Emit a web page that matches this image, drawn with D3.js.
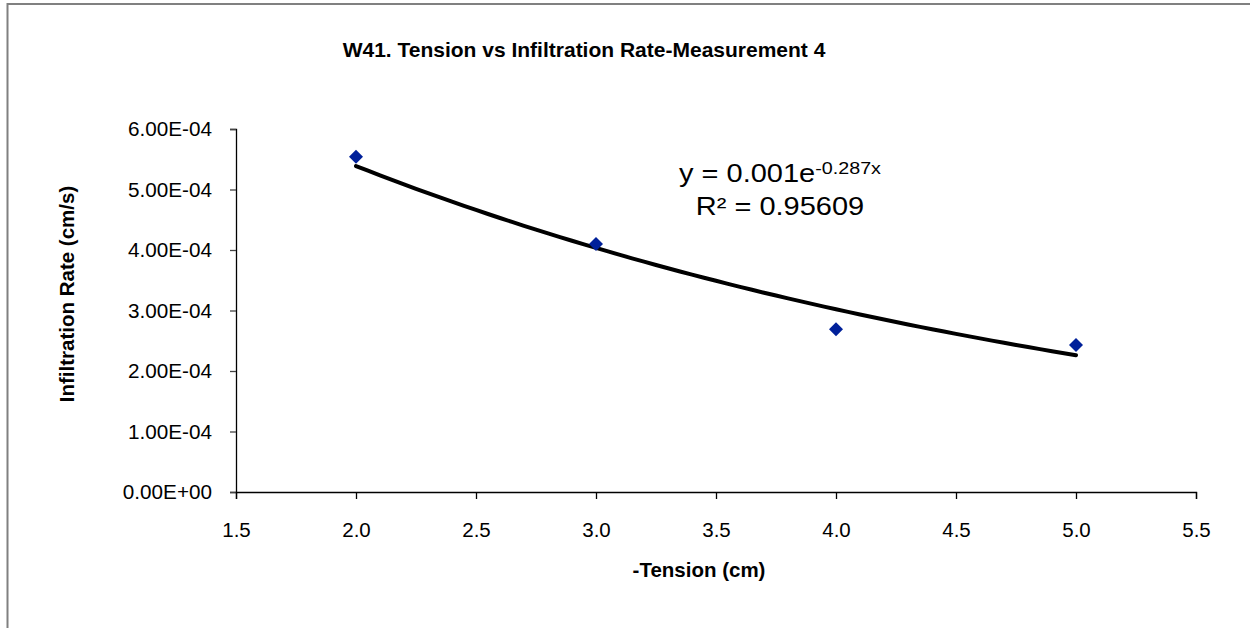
<!DOCTYPE html>
<html><head><meta charset="utf-8">
<script src="https://cdn.jsdelivr.net/npm/d3@7"></script>
<style>body{margin:0;background:#fff}svg{display:block;font-family:Arial,"Liberation Sans",sans-serif}</style>
</head><body><svg id="c" width="1250" height="628"></svg>
<script>
const tension = [2, 3, 4, 5];
const rate = [5.54e-4, 4.10e-4, 2.69e-4, 2.43e-4];
const xTicks = [1.5, 2.0, 2.5, 3.0, 3.5, 4.0, 4.5, 5.0, 5.5];
const yTicks = [0, 1e-4, 2e-4, 3e-4, 4e-4, 5e-4, 6e-4];
const titleText = "W41. Tension vs Infiltration Rate-Measurement 4";
const xLabel = "-Tension (cm)";
const yLabel = "Infiltration Rate (cm/s)";

const svg = d3.select("#c");
const x = d3.scaleLinear().domain([1.5, 5.5]).range([236, 1196]);
const y = d3.scaleLinear().domain([0, 6e-4]).range([492, 129]);

// chart border
svg.append("path").attr("d","M7.5,640 L7.5,4 L1260,4").attr("fill","none").attr("stroke","#808080").attr("stroke-width",2);

svg.append("text").attr("x",584).attr("y",57).attr("text-anchor","middle")
  .attr("font-weight","bold").attr("font-size",21).text(titleText);

const fmt = v => v===0 ? "0.00E+00" : (()=>{const e=Math.floor(Math.log10(v)+1e-9);const m=v/Math.pow(10,e);return m.toFixed(2)+"E"+(e<0?"-":"+")+String(Math.abs(e)).padStart(2,"0");})();

const gy = svg.append("g").attr("transform","translate(236,0)")
  .call(d3.axisLeft(y).tickValues(yTicks).tickFormat(fmt).tickSize(6).tickPadding(18));
gy.select(".domain").attr("stroke","#000").attr("stroke-width",1.3);
gy.selectAll(".tick line").attr("stroke","#444").attr("stroke-width",1.3);
gy.selectAll(".tick text").attr("font-size",20.7).attr("fill","#000").attr("font-family","Arial, Liberation Sans, sans-serif");

const gx = svg.append("g").attr("transform","translate(0,492)")
  .call(d3.axisBottom(x).tickValues(xTicks).tickFormat(d3.format(".1f")).tickSize(7).tickPadding(23));
gx.select(".domain").attr("stroke","#000").attr("stroke-width",1.3);
gx.selectAll(".tick line").attr("stroke","#000").attr("stroke-width",1.3);
gx.selectAll(".tick text").attr("font-size",20.5).attr("fill","#000").attr("font-family","Arial, Liberation Sans, sans-serif");

svg.append("text").attr("x",699).attr("y",577).attr("text-anchor","middle")
  .attr("font-weight","bold").attr("font-size",20.5).text(xLabel);
svg.append("text").attr("transform","translate(74,294) rotate(-90)").attr("text-anchor","middle")
  .attr("font-weight","bold").attr("font-size",20.5).text(yLabel);

// exponential trendline fitted from the data (least squares on ln y)
const lx = tension, ly = rate.map(Math.log);
const mx = d3.mean(lx), my = d3.mean(ly);
const b = d3.sum(lx.map((v,i)=>(v-mx)*(ly[i]-my))) / d3.sum(lx.map(v=>(v-mx)*(v-mx)));
const a = Math.exp(my - b*mx);
const xs = d3.range(0, 61).map(i => 2 + i*3/60);
svg.append("path").datum(xs)
  .attr("d", d3.line().x(d=>x(d)).y(d=>y(a*Math.exp(b*d))))
  .attr("fill","none").attr("stroke","#000").attr("stroke-width",4).attr("stroke-linecap","round");

svg.selectAll("path.pt").data(tension).enter().append("path").attr("class","pt")
  .attr("d", d3.symbol(d3.symbolSquare, 98))
  .attr("transform",(d,i)=>`translate(${x(d)},${y(rate[i])}) rotate(45)`)
  .attr("fill","#00209A");

const lab = svg.append("g").attr("transform","translate(780,0) scale(1.16,1)");
const eq = lab.append("text").attr("x",0).attr("y",182).attr("text-anchor","middle").attr("font-size",25);
eq.append("tspan").text("y = 0.001e");
eq.append("tspan").attr("dy",-8).attr("font-size",17).text("-0.287x");
lab.append("text").attr("x",0).attr("y",215).attr("text-anchor","middle").attr("font-size",25).text("R² = 0.95609");
</script></body></html>
